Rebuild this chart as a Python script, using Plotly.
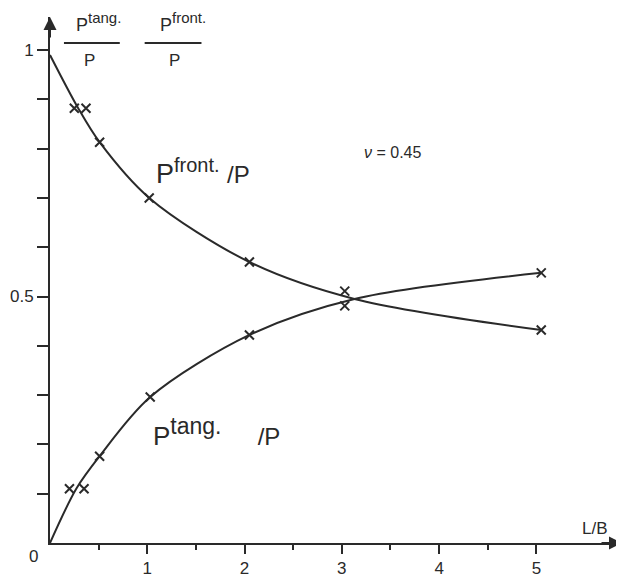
import plotly.graph_objects as go

front_pts_x = [0.25, 0.37, 0.51, 1.02, 2.05, 3.03, 5.05]
front_pts_y = [0.882, 0.882, 0.813, 0.700, 0.570, 0.511, 0.432]
tang_pts_x = [0.20, 0.35, 0.51, 1.03, 2.05, 3.03, 5.05]
tang_pts_y = [0.110, 0.110, 0.176, 0.296, 0.422, 0.481, 0.548]

# drawn curves
front_line_x = [0, 0.29, 0.51, 1.02, 2.05, 3.13, 5.05]
front_line_y = [0.99, 0.882, 0.813, 0.700, 0.570, 0.495, 0.432]
tang_line_x = [0, 0.27, 0.51, 1.03, 2.05, 3.13, 5.05]
tang_line_y = [0.0, 0.110, 0.176, 0.296, 0.422, 0.495, 0.548]

x_ticks = [1, 2, 3, 4, 5]
x_minor = [0.5, 1.5, 2.5, 3.5, 4.5]
y_ticks = [0.1, 0.2, 0.3, 0.4, 0.5, 0.6, 0.7, 0.8, 0.9, 1.0]
y_ticktext = ["", "", "", "", "0.5", "", "", "", "", "1"]

INK = "#2a2a2a"
FONT = "Liberation Sans"

fig = go.Figure()

for lx, ly in [(front_line_x, front_line_y), (tang_line_x, tang_line_y)]:
    fig.add_trace(go.Scatter(
        x=lx, y=ly, mode="lines",
        line=dict(color=INK, width=2, shape="spline", smoothing=0.9),
        hoverinfo="skip", cliponaxis=False,
    ))

for px, py in [(front_pts_x, front_pts_y), (tang_pts_x, tang_pts_y)]:
    fig.add_trace(go.Scatter(
        x=px, y=py, mode="markers",
        marker=dict(symbol="x-thin", size=9, line=dict(width=2, color=INK)),
        cliponaxis=False,
    ))

# arrowheads at the axis ends
fig.add_annotation(x=5.88, y=0, ax=-22, ay=0.001, xref="x", yref="y",
                   text="", showarrow=True, arrowhead=2, arrowsize=1.3,
                   arrowwidth=2, arrowcolor=INK)
fig.add_annotation(x=0, y=1.067, ax=0, ay=22, xref="x", yref="y",
                   text="", showarrow=True, arrowhead=2, arrowsize=1.3,
                   arrowwidth=2, arrowcolor=INK)


def label(text, x, y, size, xref="paper", yref="paper"):
    fig.add_annotation(x=x, y=y, xref=xref, yref=yref, showarrow=False,
                       xanchor="center", yanchor="middle", text=text,
                       font=dict(size=size, color=INK, family=FONT))


# in-plot labels
slash_p = "<span style='font-size:24px'>/P</span>"
label("P<sup><span style='font-size:20px'>front.</span></sup> " + slash_p,
      1.57, 0.753, 27, "x", "y")
label("P<sup><span style='font-size:23px'>tang.</span></sup>" + "&nbsp;" * 5 + slash_p,
      1.71, 0.225, 26, "x", "y")
label("<i>ν</i> = 0.45", 0.599, 0.743, 16)
label("L/B", 0.953, 0.0285, 17)
label("0", -0.0296, -0.0266, 17)

# y-axis title as two fractions
for num, cx, nx, x0, x1 in [("P<sup><span style='font-size:15px'>tang.</span></sup>", 0.0697, 0.085, 0.0244, 0.122),
                            ("P<sup><span style='font-size:15px'>front.</span></sup>", 0.2178, 0.232, 0.1655, 0.2648)]:
    label(num, nx, 0.99, 18)
    label("P", cx, 0.918, 17)
    fig.add_shape(type="line", xref="paper", yref="paper", x0=x0, x1=x1,
                  y0=0.9506, y1=0.9506, line=dict(color=INK, width=2))

fig.update_layout(
    width=616, height=572,
    margin=dict(l=40, r=2, t=9, b=37),
    paper_bgcolor="white", plot_bgcolor="white",
    showlegend=False,
    font=dict(family=FONT, size=17, color=INK),
    xaxis=dict(range=[0, 5.88], showgrid=False, zeroline=False,
               showline=True, linewidth=2, linecolor=INK,
               tickvals=x_ticks, ticks="outside", ticklen=9, tickwidth=2, tickcolor=INK,
               minor=dict(tickvals=x_minor, ticks="outside",
                          ticklen=5, tickwidth=2, tickcolor=INK)),
    yaxis=dict(range=[0, 1.067], showgrid=False, zeroline=False,
               showline=True, linewidth=2, linecolor=INK,
               tickvals=y_ticks, ticktext=y_ticktext, ticks="outside",
               ticklen=11, tickwidth=2, tickcolor=INK),
)

fig.write_html("out.html")
